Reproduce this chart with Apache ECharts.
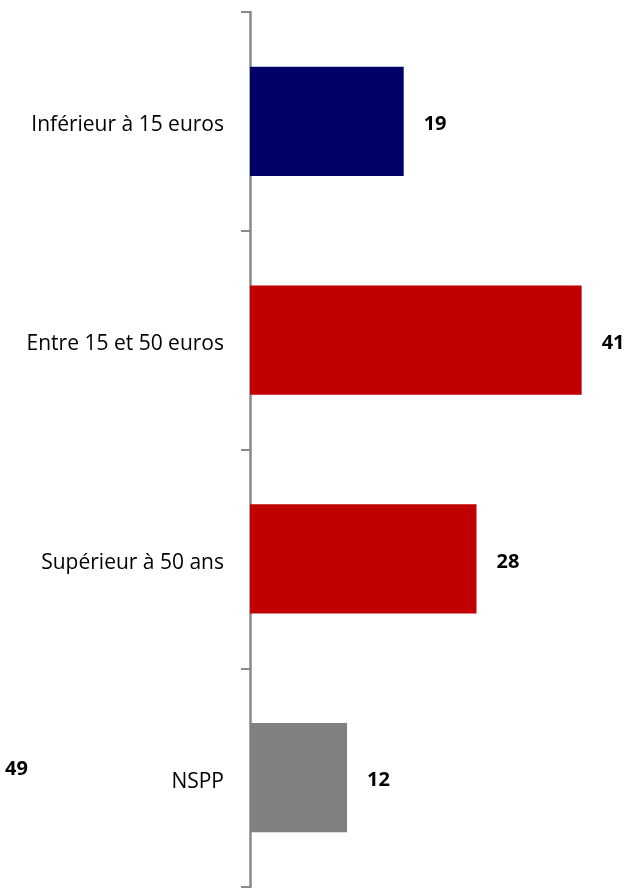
<!DOCTYPE html>
<html>
<head>
<meta charset="utf-8">
<script src="https://cdn.jsdelivr.net/npm/echarts@6/dist/echarts.min.js"></script>
<style>html,body{margin:0;padding:0;background:#fff;}#c{width:633px;height:888px;}</style>
</head>
<body>
<div id="c"></div>
<script>
const categories = ["Inférieur à 15 euros", "Entre 15 et 50 euros", "Supérieur à 50 ans", "NSPP"];
const values = [19, 41, 28, 12];
const barColors = ["#000066", "#C00000", "#C00000", "#808080"];
const strayLabel = "49";

const chart = echarts.init(document.getElementById('c'), null, {renderer: 'canvas'});
const font = '"Open Sans", Lato, sans-serif';
chart.setOption({
  animation: false,
  grid: {left: 250, top: 12, width: 364, height: 875, containLabel: false},
  xAxis: {type: 'value', min: 0, max: 45, show: false},
  yAxis: {
    type: 'category', data: categories, inverse: true,
    axisLine: {show: true, lineStyle: {color: '#888888', width: 2.5}},
    axisTick: {show: true, inside: false, length: 9, alignWithLabel: false, lineStyle: {color: '#888888', width: 2}},
    axisLabel: {
      color: '#000', fontSize: 21, fontFamily: font, margin: 26,
      formatter: v => '{t|' + v + '}',
      rich: {t: {color: '#000', fontSize: 21, fontFamily: font, padding: [8, 0, 0, 0]}}
    }
  },
  series: [{
    type: 'bar',
    data: values.map((v, i) => ({value: v, itemStyle: {color: barColors[i]}})),
    barCategoryGap: '50%',
    label: {show: true, position: 'right', distance: 20, offset: [0, 3], color: '#000', fontSize: 20, fontWeight: 'bold', fontFamily: font}
  }],
  graphic: [{
    type: 'text', left: 5, top: 759,
    style: {text: strayLabel, fill: '#000', font: 'bold 20px ' + font}
  }]
});
</script>
</body>
</html>
